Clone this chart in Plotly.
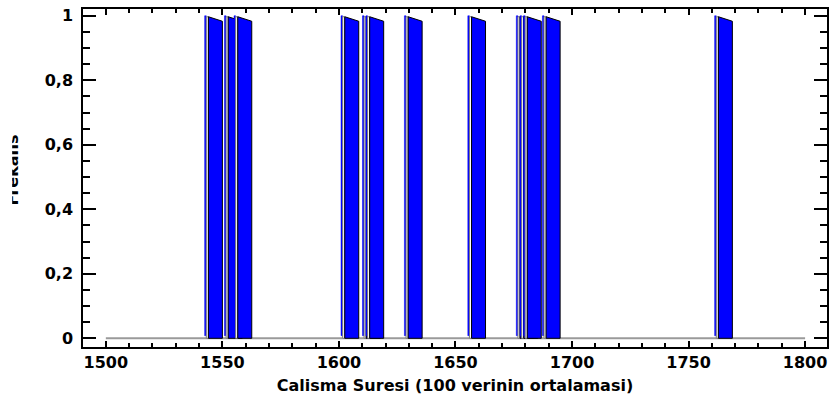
import plotly.graph_objects as go

# ---- data ----
bar_x = [1542.4, 1550.9, 1555.0, 1600.9, 1610.1, 1611.6, 1628.1,
         1655.3, 1676.1, 1677.7, 1679.2, 1687.3, 1761.2]
freq = [1, 1, 1, 1, 1, 1, 1, 1, 1, 1, 1, 1, 1]
x_ticks = [1500, 1550, 1600, 1650, 1700, 1750, 1800]
y_ticks = [0, 0.2, 0.4, 0.6, 0.8, 1]
baseline_span = [1500, 1800]
x_title = "Calisma Suresi (100 verinin ortalamasi)"
y_title = "Frekans"

# ---- style (3D bar look) ----
STRIP_W = 0.7
WHITE_W = 0.9
FACE_W = 6.0
TOP_DROP = 0.017
BLUE = "#0000FF"
FONT = "DejaVu Sans"

fig = go.Figure()

# zero baseline of the histogram
fig.add_trace(go.Scatter(x=baseline_span, y=[0, 0], mode="lines",
                         line=dict(color="#9a9a9a", width=2),
                         hoverinfo="skip", showlegend=False))

for b, f in zip(bar_x, freq):
    s0, s1 = b, b + STRIP_W
    w1 = s1 + WHITE_W
    f1 = w1 + FACE_W
    # thin blue front edge
    fig.add_trace(go.Scatter(x=[s0, s1, s1, s0, s0],
                             y=[0.008 * f, 0.008 * f, f, f, 0.008 * f],
                             mode="lines", fill="toself", fillcolor=BLUE,
                             line=dict(color=BLUE, width=0.5),
                             hoverinfo="skip", showlegend=False))
    # white highlight strip
    fig.add_trace(go.Scatter(x=[s1, w1, w1, s1, s1],
                             y=[0, 0, f - 0.003, f - 0.003, 0],
                             mode="lines", fill="toself", fillcolor="white",
                             line=dict(color="#7a7a7a", width=1),
                             hoverinfo="skip", showlegend=False))
    # slanted blue face
    fig.add_trace(go.Scatter(x=[w1, w1, f1, f1, w1],
                             y=[0, f - 0.003, f - TOP_DROP, 0, 0],
                             mode="lines", fill="toself", fillcolor=BLUE,
                             line=dict(color="black", width=1),
                             hoverinfo="skip", showlegend=False))

tickfont = dict(family=FONT, size=16, color="black", weight="bold")

fig.update_xaxes(range=[1490.2, 1809.4], tickvals=x_ticks,
                 ticks="inside", ticklen=6, tickwidth=1.5, tickcolor="black",
                 minor=dict(dtick=10, tick0=1500, ticks="inside", ticklen=4,
                            tickwidth=1.5, tickcolor="black"),
                 showline=True, linecolor="black", linewidth=1.5,
                 mirror="allticks", showgrid=False, zeroline=False,
                 tickfont=tickfont,
                 title=dict(text=x_title, standoff=9,
                            font=dict(family=FONT, size=16, color="black",
                                      weight="bold")))
fig.update_yaxes(range=[-0.027, 1.021], tickvals=y_ticks,
                 ticks="inside", ticklen=13, tickwidth=1.5, tickcolor="black",
                 minor=dict(dtick=0.05, tick0=0, ticks="inside", ticklen=7,
                            tickwidth=1.5, tickcolor="black"),
                 showline=True, linecolor="black", linewidth=1.5,
                 mirror="allticks", showgrid=False, zeroline=False,
                 tickfont=tickfont, ticklabelstandoff=5)

# y-axis title, partially cut off at the left edge like the reference
fig.add_shape(type="rect", xref="paper", yref="paper",
              x0=-0.0965, x1=-0.0965, y0=0.5237, y1=0.5237,
              line=dict(width=0), layer="above",
              label=dict(text=y_title, textangle=-90,
                         textposition="middle center",
                         font=dict(family=FONT, size=16, color="black",
                                   weight="bold")))
fig.add_shape(type="rect", xref="paper", yref="paper",
              x0=-0.2, x1=-0.0952, y0=0, y1=1,
              line=dict(width=0), fillcolor="white", layer="above")

fig.update_layout(width=832, height=404,
                  margin=dict(l=83, r=3, t=9, b=57),
                  paper_bgcolor="white", plot_bgcolor="white",
                  separators=",.", showlegend=False,
                  font=dict(family=FONT, color="black"))

fig.write_html("out.html",
               config={"displayModeBar": False},
               post_script="document.body.style.margin='0px';")
